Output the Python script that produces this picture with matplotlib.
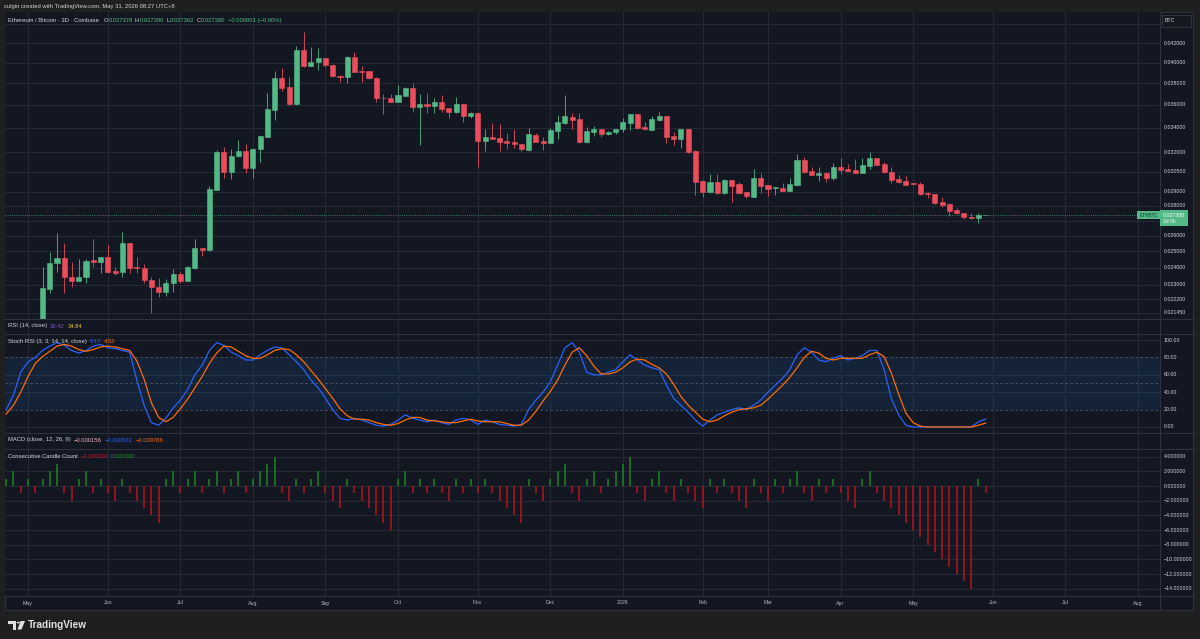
import matplotlib
matplotlib.use("Agg")
import matplotlib.pyplot as plt
from matplotlib import transforms
from matplotlib.patches import Rectangle, Circle, Polygon

plt.rcParams['font.family'] = ['Liberation Sans', 'DejaVu Sans']

# ---------------- data (3D candles, bar index 0 = first bar of May 2025) ----------------
first_idx = -3
opens = [0.01890, 0.01910, 0.01930, 0.01900, 0.01920, 0.01890, 0.02275, 0.02427, 0.02457, 0.02344,
         0.02325, 0.02344, 0.02447, 0.02433, 0.02463, 0.02381, 0.02373, 0.02551, 0.02404, 0.02401,
         0.02329, 0.02290, 0.02258, 0.02310, 0.02361, 0.02323, 0.02401, 0.02520, 0.02509, 0.02913,
         0.03202, 0.03049, 0.03170, 0.03212, 0.03075, 0.03226, 0.03326, 0.03555, 0.03846, 0.03766,
         0.03606, 0.04127, 0.03969, 0.04003, 0.04046, 0.03979, 0.03872, 0.03856, 0.04060, 0.03920,
         0.03914, 0.03852, 0.03661, 0.03660, 0.03629, 0.03684, 0.03752, 0.03585, 0.03609, 0.03594,
         0.03629, 0.03570, 0.03535, 0.03609, 0.03502, 0.03532, 0.03291, 0.03321, 0.03313, 0.03288,
         0.03283, 0.03266, 0.03218, 0.03340, 0.03291, 0.03277, 0.03376, 0.03439, 0.03497, 0.03474,
         0.03280, 0.03368, 0.03388, 0.03346, 0.03363, 0.03388, 0.03445, 0.03517, 0.03404, 0.03382,
         0.03465, 0.03502, 0.03332, 0.03305, 0.03390, 0.03212, 0.02980, 0.02897, 0.02974, 0.02890,
         0.02987, 0.02957, 0.02897, 0.02865, 0.03004, 0.02947, 0.02925, 0.02928, 0.02906, 0.02947,
         0.03139, 0.03054, 0.03024, 0.03041, 0.02999, 0.03082, 0.03067, 0.03062, 0.03041, 0.03092,
         0.03152, 0.03105, 0.03049, 0.02992, 0.02980, 0.02962, 0.02957, 0.02892, 0.02884, 0.02826,
         0.02814, 0.02770, 0.02751, 0.02724, 0.02719, 0.027378]
highs = [0.01915, 0.01940, 0.01945, 0.01930, 0.01935, 0.02403, 0.02498, 0.02616, 0.02551, 0.02433,
         0.02451, 0.02451, 0.02576, 0.02466, 0.02540, 0.02407, 0.02624, 0.02555, 0.02467, 0.02421,
         0.02348, 0.02339, 0.02333, 0.02393, 0.02373, 0.02411, 0.02576, 0.02522, 0.02944, 0.03218,
         0.03240, 0.03224, 0.03299, 0.03264, 0.03232, 0.03335, 0.03705, 0.03917, 0.03944, 0.03862,
         0.04172, 0.04320, 0.04161, 0.04151, 0.04049, 0.03982, 0.03875, 0.04063, 0.04104, 0.03966,
         0.03917, 0.03856, 0.03696, 0.03696, 0.03782, 0.03766, 0.03805, 0.03699, 0.03711, 0.03660,
         0.03690, 0.03573, 0.03675, 0.03612, 0.03535, 0.03535, 0.03388, 0.03439, 0.03431, 0.03360,
         0.03390, 0.03269, 0.03396, 0.03354, 0.03321, 0.03396, 0.03511, 0.03687, 0.03532, 0.03532,
         0.03404, 0.03415, 0.03391, 0.03371, 0.03393, 0.03483, 0.03520, 0.03520, 0.03448, 0.03505,
         0.03535, 0.03505, 0.03368, 0.03393, 0.03393, 0.03215, 0.02983, 0.03032, 0.03029, 0.02992,
         0.02990, 0.02974, 0.02900, 0.03067, 0.03037, 0.02950, 0.02935, 0.02962, 0.02999, 0.03184,
         0.03165, 0.03087, 0.03082, 0.03044, 0.03113, 0.03157, 0.03105, 0.03144, 0.03152, 0.03200,
         0.03155, 0.03126, 0.03082, 0.03024, 0.03019, 0.02965, 0.02974, 0.02895, 0.02887, 0.02861,
         0.02817, 0.02784, 0.02754, 0.02753, 0.02753, 0.027390]
lows = [0.01880, 0.01900, 0.01895, 0.01890, 0.01880, 0.01885, 0.02256, 0.02377, 0.02252, 0.02287,
        0.02322, 0.02310, 0.02407, 0.02367, 0.02371, 0.02357, 0.02348, 0.02367, 0.02367, 0.02310,
        0.02143, 0.02230, 0.02239, 0.02262, 0.02310, 0.02320, 0.02391, 0.02471, 0.02505, 0.02910,
        0.03004, 0.02994, 0.03165, 0.03041, 0.02999, 0.03126, 0.03320, 0.03468, 0.03728, 0.03600,
        0.03600, 0.03953, 0.03966, 0.03927, 0.03956, 0.03862, 0.03814, 0.03799, 0.03905, 0.03814,
        0.03840, 0.03629, 0.03517, 0.03625, 0.03625, 0.03681, 0.03540, 0.03258, 0.03532, 0.03532,
        0.03540, 0.03483, 0.03532, 0.03453, 0.03483, 0.03087, 0.03212, 0.03304, 0.03212, 0.03226,
        0.03232, 0.03212, 0.03210, 0.03282, 0.03218, 0.03275, 0.03305, 0.03436, 0.03388, 0.03277,
        0.03277, 0.03332, 0.03321, 0.03343, 0.03349, 0.03368, 0.03382, 0.03393, 0.03385, 0.03380,
        0.03462, 0.03272, 0.03258, 0.03232, 0.03191, 0.02877, 0.02865, 0.02894, 0.02887, 0.02887,
        0.02830, 0.02887, 0.02858, 0.02862, 0.02890, 0.02872, 0.02877, 0.02903, 0.02903, 0.02944,
        0.03037, 0.03021, 0.02982, 0.02974, 0.02987, 0.03029, 0.03051, 0.03038, 0.03038, 0.03067,
        0.03097, 0.03041, 0.02962, 0.02967, 0.02947, 0.02952, 0.02879, 0.02854, 0.02814, 0.02791,
        0.02731, 0.02746, 0.02709, 0.02712, 0.02682, 0.027362]
closes = [0.01910, 0.01930, 0.01900, 0.01920, 0.01890, 0.02281, 0.02427, 0.02457, 0.02344, 0.02325,
          0.02348, 0.02443, 0.02433, 0.02463, 0.02377, 0.02371, 0.02551, 0.02401, 0.02401, 0.02329,
          0.02290, 0.02258, 0.02310, 0.02361, 0.02325, 0.02403, 0.02520, 0.02509, 0.02918, 0.03202,
          0.03049, 0.03173, 0.03212, 0.03075, 0.03229, 0.03332, 0.03564, 0.03846, 0.03757, 0.03606,
          0.04127, 0.03969, 0.04006, 0.04046, 0.03979, 0.03869, 0.03859, 0.04060, 0.03910, 0.03910,
          0.03846, 0.03660, 0.03659, 0.03629, 0.03690, 0.03752, 0.03585, 0.03609, 0.03594, 0.03629,
          0.03564, 0.03535, 0.03609, 0.03505, 0.03532, 0.03291, 0.03321, 0.03307, 0.03285, 0.03275,
          0.03264, 0.03224, 0.03346, 0.03285, 0.03277, 0.03382, 0.03448, 0.03500, 0.03468, 0.03280,
          0.03374, 0.03393, 0.03349, 0.03368, 0.03390, 0.03451, 0.03517, 0.03396, 0.03388, 0.03474,
          0.03502, 0.03321, 0.03305, 0.03390, 0.03204, 0.02974, 0.02897, 0.02974, 0.02890, 0.02987,
          0.02944, 0.02890, 0.02870, 0.03004, 0.02942, 0.02920, 0.02932, 0.02906, 0.02955, 0.03139,
          0.03049, 0.03024, 0.03041, 0.02999, 0.03082, 0.03062, 0.03054, 0.03041, 0.03097, 0.03152,
          0.03100, 0.03044, 0.02987, 0.02970, 0.02950, 0.02955, 0.02882, 0.02885, 0.02823, 0.02809,
          0.02765, 0.02749, 0.02722, 0.02715, 0.027381, 0.027380]

stoch_k = [20, 37, 63, 75, 80, 88, 93, 97, 94, 88, 85, 88, 93, 95, 91, 90, 88, 86, 54, 25,
           5, 2, 10, 22, 31, 43, 60, 71, 88, 97, 94, 86, 82, 77, 77, 83, 88, 92, 91, 83,
           75, 66, 54, 45, 33, 20, 10, 8, 10, 8, 5, 2, 1, 3, 8, 14, 10, 8, 6, 8,
           5, 3, 8, 10, 8, 3, 8, 6, 3, 2, 1, 3, 20, 31, 40, 52, 71, 91, 97, 86,
           63, 60, 60, 63, 66, 75, 83, 77, 71, 68, 66, 48, 33, 25, 17, 8, 1, 8, 14, 17,
           20, 22, 20, 25, 31, 40, 48, 56, 66, 83, 91, 86, 77, 75, 79, 82, 77, 79, 82, 88,
           88, 66, 33, 14, 2, 0, 0, 0, 0, 0, 0, 0, 0, 0, 6, 9.17]
stoch_d = [15, 25, 40, 58, 73, 81, 87, 93, 95, 93, 89, 87, 89, 92, 93, 92, 90, 88, 76, 55,
           28, 11, 6, 11, 21, 32, 45, 58, 73, 85, 93, 92, 87, 82, 79, 79, 83, 88, 90, 89,
           83, 75, 65, 55, 44, 33, 21, 13, 9, 9, 8, 5, 3, 2, 4, 8, 11, 11, 8, 7,
           6, 5, 5, 7, 9, 7, 6, 6, 6, 4, 2, 2, 8, 18, 30, 41, 54, 71, 86, 91,
           82, 70, 61, 61, 63, 68, 75, 78, 77, 72, 68, 61, 49, 35, 25, 17, 9, 6, 8, 13,
           17, 20, 21, 22, 25, 32, 40, 48, 57, 68, 80, 87, 85, 79, 77, 79, 79, 79, 79, 83,
           86, 81, 62, 38, 16, 5, 1, 0, 0, 0, 0, 0, 0, 0, 2, 4.52]

candle_count = [1, 2, -1, 1, -1, 1, 2, 3, -1, -2, 1, 2, -1, 1, -1, -2, 1, -1, -2, -3,
                -4, -5, 1, 2, -1, 1, 2, -1, 1, 2, -1, 1, 2, -1, 1, 2, 3, 4, -1, -2,
                1, -1, 1, 2, -1, -2, -3, 1, -1, -2, -3, -4, -5, -6, 1, 2, -1, 1, -1, 1,
                -1, -2, 1, -1, 1, -1, 1, -1, -2, -3, -4, -5, 1, -1, -2, 1, 2, 3, -1, -2,
                1, 2, -1, 1, 2, 3, 4, -1, -2, 1, 2, -1, -2, 1, -1, -2, -3, 1, -1, 1,
                -1, -2, -3, 1, -1, -2, 1, -1, 1, 2, -1, -2, 1, -1, 1, -1, -2, -3, 1, 2,
                -1, -2, -3, -4, -5, -6, -7, -8, -9, -10, -11, -12, -13, -14, 1, -1]

month_labels = ['May', 'Jun', 'Jul', 'Aug', 'Sep', 'Oct', 'Nov', 'Dec', '2026',
                'Feb', 'Mar', 'Apr', 'May', 'Jun', 'Jul', 'Aug']
month_idx = [0, 11, 21, 31, 41, 51, 62, 72, 82, 93, 102, 112, 122, 133, 143, 153]

price_grid = [0.044, 0.042, 0.040, 0.038, 0.036, 0.034, 0.032, 0.0305, 0.029, 0.028,
              0.027, 0.026, 0.025, 0.024, 0.023, 0.0222, 0.02145]
price_labels = [0.042, 0.040, 0.038, 0.036, 0.034, 0.032, 0.0305, 0.029, 0.028,
                0.026, 0.025, 0.024, 0.023, 0.0222, 0.02145]
stoch_ticks = [100, 80, 60, 40, 20, 0]
count_ticks = [4, 2, 0, -2, -4, -6, -8, -10, -12, -14]

# ---------------- style ----------------
W, H = 1200, 639
BG_OUT = '#1f1f1f'
BG = '#131722'
GRID = '#262a35'
SEP = '#2e323d'
TXT = '#d1d4dc'
AXT = '#b2b5be'
UP = '#53b987'
DN = '#eb4d5c'
K_COL = '#2962ff'
D_COL = '#ff6d00'

fig = plt.figure(figsize=(W / 100, H / 100), dpi=100, facecolor=BG_OUT)
renderer = fig.canvas.get_renderer()


def px_axes(x0, y0, x1, y1):
    ax = fig.add_axes([x0 / W, 1 - y1 / H, (x1 - x0) / W, (y1 - y0) / H])
    ax.set_facecolor(BG)
    for s in ax.spines.values():
        s.set_visible(False)
    ax.tick_params(which='both', left=False, bottom=False, labelleft=False, labelbottom=False)
    return ax


def fig_box(x0, y0, x1, y1, **kw):
    r = Rectangle((x0 / W, 1 - y1 / H), (x1 - x0) / W, (y1 - y0) / H,
                  transform=fig.transFigure, **kw)
    fig.patches.append(r)
    return r


def fig_text(x, y, s, **kw):
    return fig.text(x / W, 1 - y / H, s, **kw)


def legend_row(x, y, parts, size=4.2):
    for s, c, gap in parts:
        t = fig_text(x, y, s, color=c, fontsize=size, va='center', ha='left', zorder=10)
        x += t.get_window_extent(renderer).width + gap


# chart frame (drawn behind the pane axes)
fig_box(5, 12, 1193, 610, facecolor=BG, edgecolor=SEP, lw=0.8, zorder=-5)

X0, X1 = 5, 1160
xlim = (-3.17, 156.03)
xs = list(range(first_idx, first_idx + len(closes)))

ax_p = px_axes(X0, 12, X1, 319)
ax_r = px_axes(X0, 319, X1, 334)
ax_s = px_axes(X0, 334, X1, 433)
ax_m = px_axes(X0, 433, X1, 449)
ax_c = px_axes(X0, 449, X1, 596)
for ax in (ax_p, ax_r, ax_s, ax_m, ax_c):
    ax.set_xlim(*xlim)
    for m in month_idx:
        ax.axvline(m, color=GRID, lw=0.7, zorder=0)

# ---------------- price pane ----------------
ax_p.set_yscale('log')
ax_p.yaxis.set_major_locator(plt.NullLocator())
ax_p.yaxis.set_minor_locator(plt.NullLocator())
ax_p.set_ylim(0.02113, 0.04537)
for v in price_grid:
    ax_p.axhline(v, color=GRID, lw=0.7, zorder=0)

cols = [UP if c >= o else DN for o, c in zip(opens, closes)]
ax_p.vlines(xs, lows, highs, colors=cols, lw=0.7, alpha=0.85, zorder=2)
bottoms = [min(o, c) for o, c in zip(opens, closes)]
heights = [abs(c - o) for o, c in zip(opens, closes)]
ax_p.bar(xs, heights, bottom=bottoms, width=0.7, color=cols, edgecolor=cols, lw=0.4, zorder=3)

last = closes[-1]
ax_p.axhline(last, color=UP, lw=0.6, ls=(0, (1, 1.6)), alpha=0.8, zorder=1)

tr_p = transforms.blended_transform_factory(fig.transFigure, ax_p.transData)
for v in price_labels:
    ax_p.text(1164 / W, v, f'{v:.6f}', transform=tr_p, color=TXT, fontsize=3.8,
              va='center', ha='left', clip_on=False)

# last price tag
y_last = H - ax_p.transData.transform((0, last))[1]
fig_box(1160, y_last - 5, 1188, y_last + 11.5, facecolor=UP, edgecolor='none', zorder=5)
fig_text(1163, y_last + 0.3, f'{last:.6f}', color='white', fontsize=3.8, va='center', zorder=6)
fig_text(1163, y_last + 6.8, '3d 0h', color='white', fontsize=3.6, va='center', zorder=6)
fig_box(1137, y_last - 4, 1160, y_last + 4, facecolor=UP, edgecolor='none', zorder=5)
fig_text(1148.5, y_last + 0.3, 'ETHBTC', color='#12372a', fontsize=3.4, va='center', ha='center', zorder=6)

# currency box
fig_box(1162, 15, 1191, 27, facecolor='#16191f', edgecolor='#363a45', lw=0.6, zorder=5)
fig_text(1165, 21, 'BTC', color=TXT, fontsize=3.8, va='center', zorder=6)

# ---------------- Stoch RSI pane ----------------
ax_s.set_ylim(-6.9, 106.9)
for v in (100, 60, 40, 0):
    ax_s.axhline(v, color=GRID, lw=0.7, zorder=0)
ax_s.axhspan(20, 80, color='#2196f3', alpha=0.1, lw=0, zorder=1)
for v in (80, 50, 20):
    ax_s.axhline(v, color='#787b86', lw=0.6, ls=(0, (3, 3)), alpha=0.6, zorder=1)
ax_s.plot(xs, stoch_k, color=K_COL, lw=0.9, zorder=3)
ax_s.plot(xs, stoch_d, color=D_COL, lw=0.9, zorder=4)
tr_s = transforms.blended_transform_factory(fig.transFigure, ax_s.transData)
for v in stoch_ticks:
    ax_s.text(1164 / W, v, f'{v:.2f}', transform=tr_s, color=TXT, fontsize=3.8,
              va='center', ha='left', clip_on=False)

# ---------------- Consecutive Candle Count pane ----------------
ax_c.set_ylim(-14.99, 5.06)
for v in count_ticks:
    ax_c.axhline(v, color=GRID, lw=0.7, zorder=0)
cc_cols = ['#1e7d22' if v > 0 else '#a8141c' for v in candle_count]
ax_c.vlines(xs, 0, candle_count, colors=cc_cols, lw=1.2, zorder=3)
tr_c = transforms.blended_transform_factory(fig.transFigure, ax_c.transData)
for v in count_ticks:
    lab = f'{v:.6f}'.replace('-', '\u2212')
    ax_c.text(1164 / W, v, lab, transform=tr_c, color=TXT, fontsize=3.8,
              va='center', ha='left', clip_on=False)

# ---------------- separators, axis lines ----------------
for y in (319, 334, 433, 449, 596):
    fig.add_artist(plt.Line2D([5 / W, 1193 / W], [1 - y / H, 1 - y / H], color=SEP, lw=0.8))
fig.add_artist(plt.Line2D([1160 / W, 1160 / W], [1 - 12 / H, 1 - 610 / H], color=SEP, lw=0.8))

# time axis labels
tr_x = transforms.blended_transform_factory(ax_c.transData, fig.transFigure)
for m, lab in zip(month_idx, month_labels):
    ax_c.text(m, 1 - 603 / H, lab, transform=tr_x, color=AXT, fontsize=3.8,
              ha='center', va='center', clip_on=False)

# ---------------- legends ----------------
fig_text(4, 6.7, 'culgin created with TradingView.com, May 31, 2026 08:27 UTC+8',
         color=TXT, fontsize=4.2, va='center')
legend_row(8, 20.5, [('Ethereum / Bitcoin \u00b7 3D \u00b7 Coinbase', TXT, 4.5),
                     ('O', TXT, 0.4), ('0.027378', UP, 2.2),
                     ('H', TXT, 0.4), ('0.027390', UP, 2.2),
                     ('L', TXT, 0.4), ('0.027362', UP, 2.2),
                     ('C', TXT, 0.4), ('0.027380', UP, 3.0),
                     ('\u22120.000001 (\u22120.00%)', UP, 0)])
legend_row(8, 326, [('RSI (14, close)', TXT, 3), ('30.42', '#7e57c2', 3), ('34.84', '#e6c229', 0)])
legend_row(8, 342, [('Stoch RSI (3, 3, 14, 14, close)', TXT, 3), ('9.17', K_COL, 3),
                    ('4.52', D_COL, 0)])
legend_row(8, 440, [('MACD (close, 12, 26, 9)', TXT, 3), ('\u22120.000156', '#f4b6bb', 3),
                    ('\u22120.000922', K_COL, 3), ('\u22120.000766', D_COL, 0)])
legend_row(8, 456, [('Consecutive Candle Count', TXT, 3), ('\u22121.000000', '#c2161e', 2),
                    ('0.000000', '#1f8a24', 0)])

# ---------------- TradingView logo ----------------
LOGO = '#e0e0e0'
fig_box(8, 621, 15.5, 624, facecolor=LOGO, edgecolor='none')
fig_box(12.5, 621, 15.5, 629.5, facecolor=LOGO, edgecolor='none')
fig.patches.append(Circle((18.2 / W, 1 - 622.6 / H), 1.6 / W, transform=fig.transFigure,
                          facecolor=LOGO, edgecolor='none'))
fig.patches.append(Polygon([(20.5 / W, 1 - 621 / H), (25 / W, 1 - 621 / H),
                            (21.5 / W, 1 - 629.5 / H), (17.5 / W, 1 - 629.5 / H)],
                           closed=True, transform=fig.transFigure, facecolor=LOGO, edgecolor='none'))
fig_text(28, 625.5, 'TradingView', color=LOGO, fontsize=7.2, va='center', fontweight='bold')

fig.savefig('out.png', dpi=100, facecolor=BG_OUT)
